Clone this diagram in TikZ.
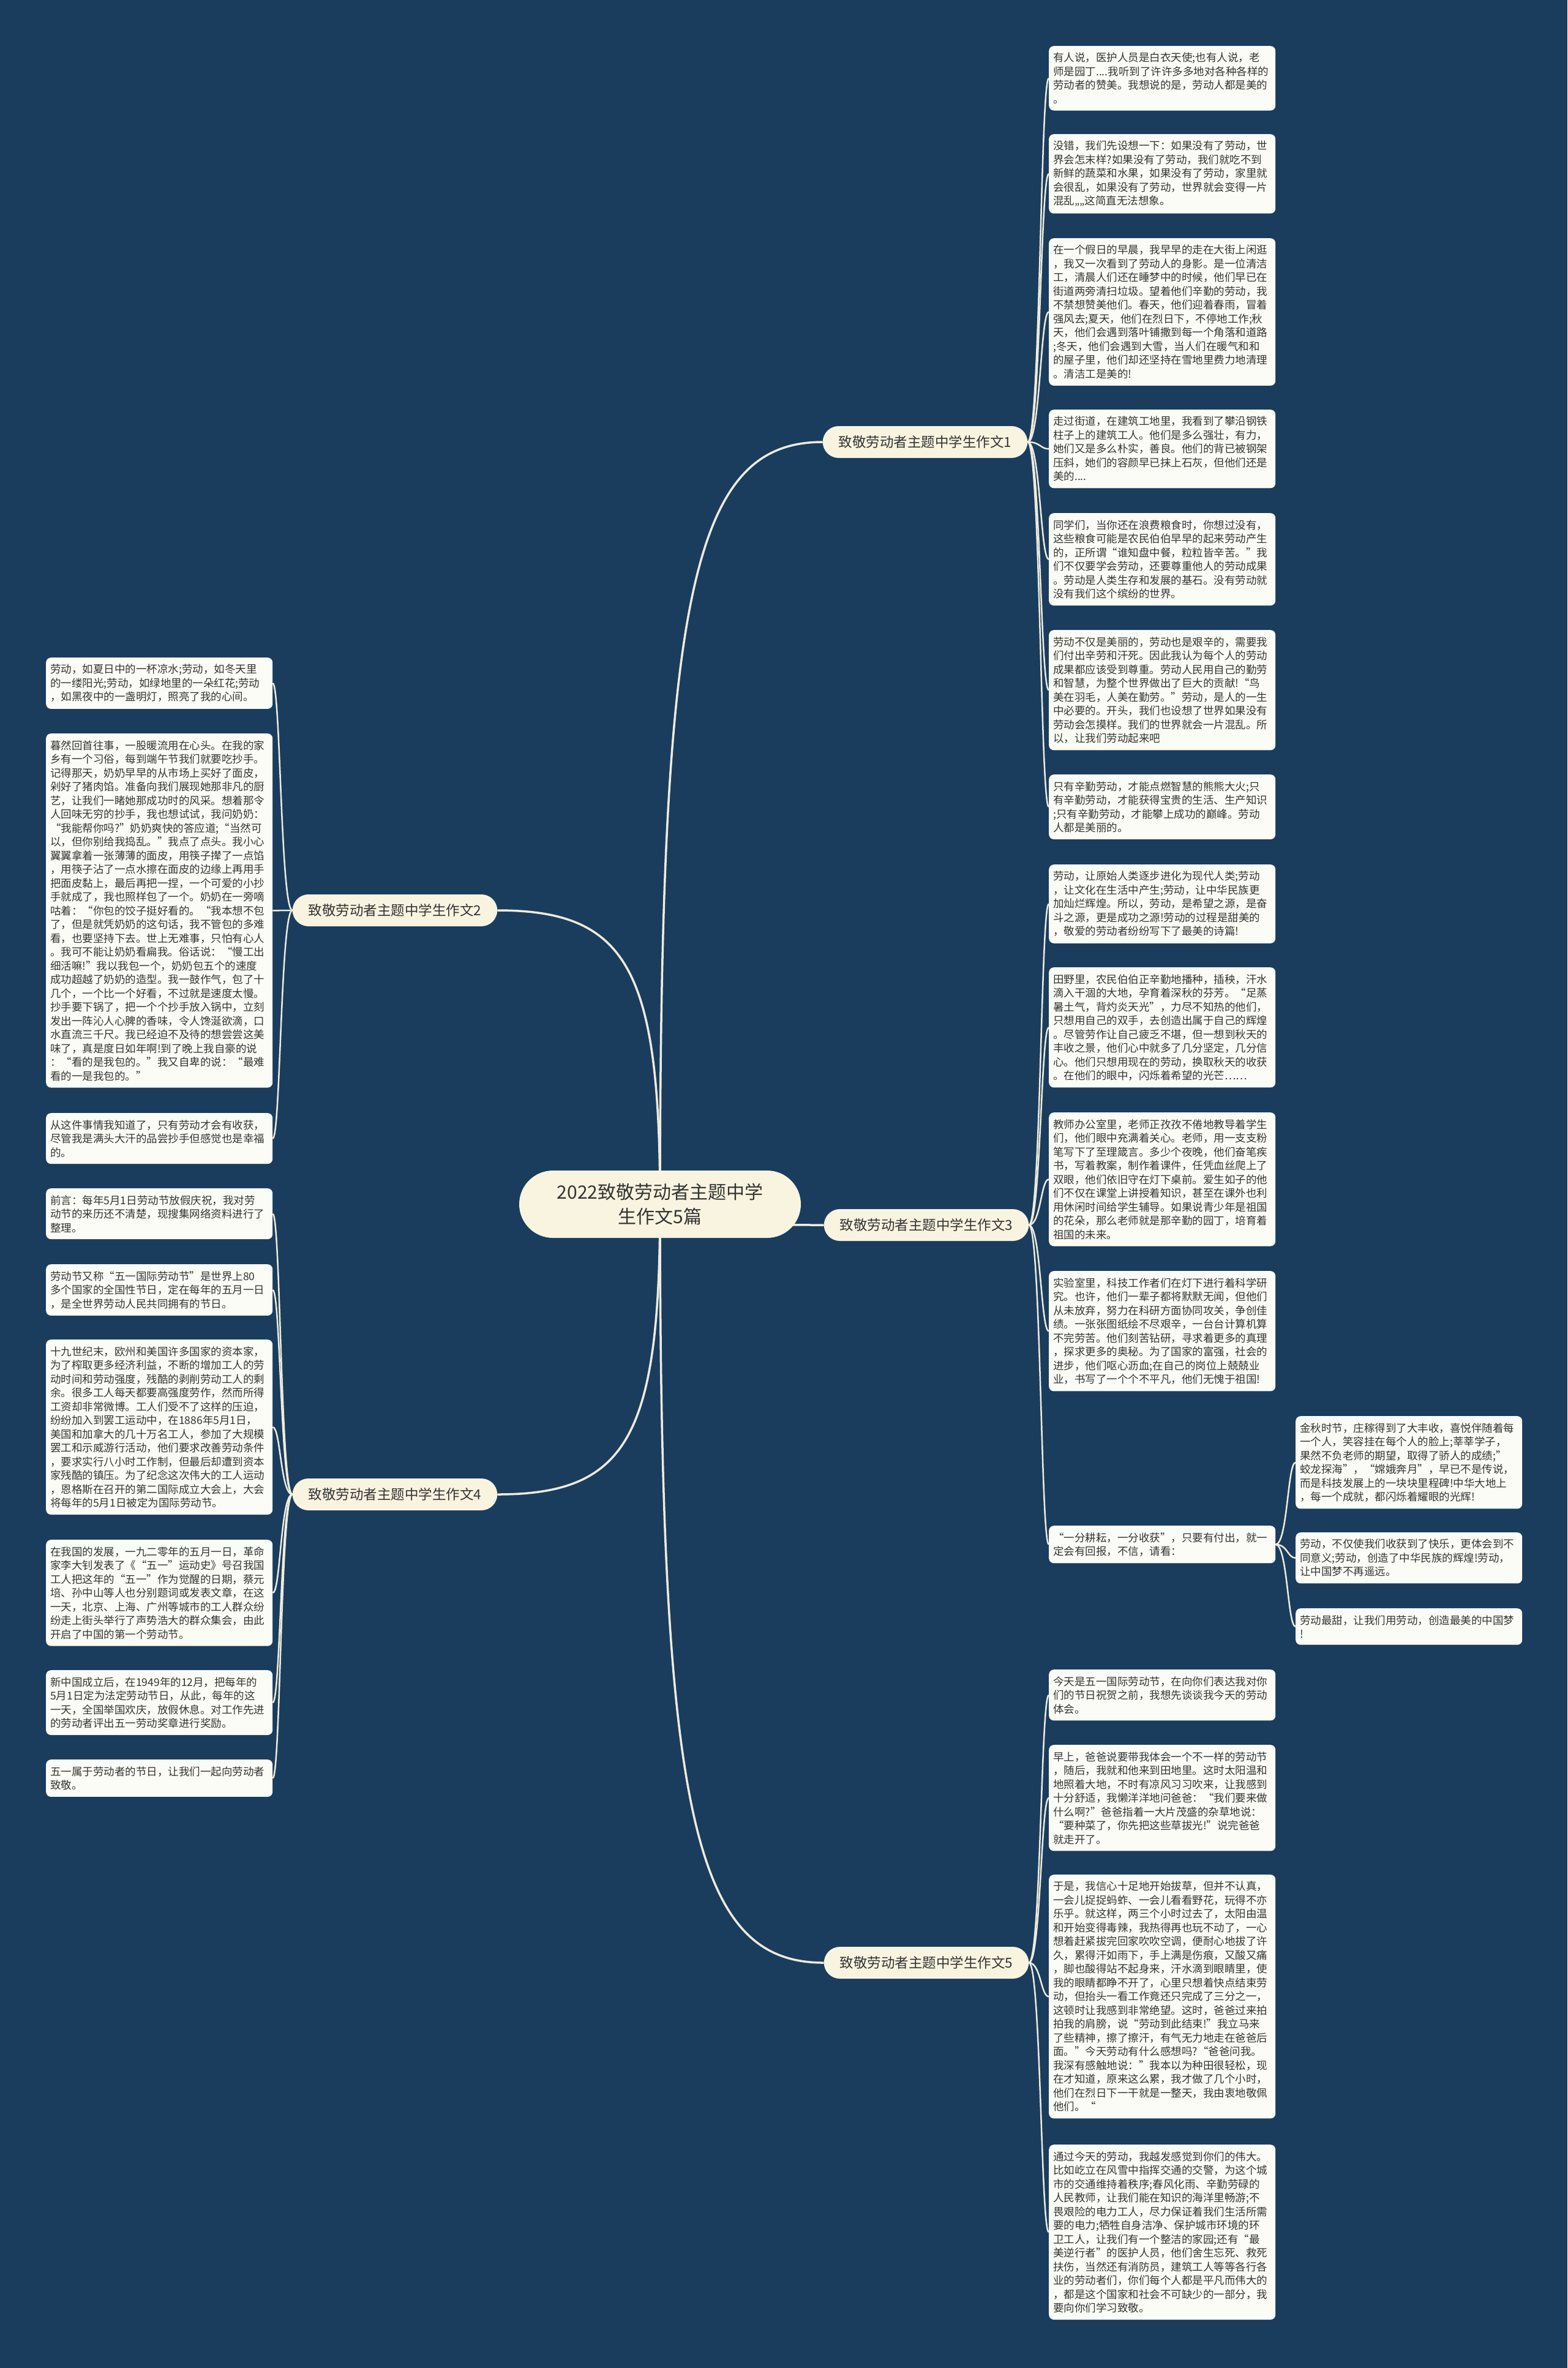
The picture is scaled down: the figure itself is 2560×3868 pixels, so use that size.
\documentclass[tikz,border=0pt]{standalone}
\usepackage{fontspec}
\setmainfont{Noto Sans CJK SC}
\usetikzlibrary{calc}
\definecolor{bgc}{HTML}{1A3D5E}
\definecolor{boxc}{HTML}{FCFCF6}
\definecolor{brc}{HTML}{F8F4E0}
\definecolor{txtc}{HTML}{333333}
\definecolor{linec}{HTML}{EEEBDD}
\pgfdeclarelayer{back}
\pgfdeclarelayer{lines}
\pgfsetlayers{back,lines,main}
\tikzset{
 leaf/.style={fill=boxc, rounded corners=8pt, text width=356pt, inner xsep=7pt, inner ysep=11pt, align=left, anchor=north west, font=\fontsize{17.5}{22.5}\selectfont, text=txtc},
 branch/.style={fill=brc, rounded corners=26pt, minimum height=52pt, inner xsep=26pt, inner ysep=0pt, font=\fontsize{22.5}{27}\selectfont, text=txtc},
 rootnode/.style={fill=brc, rounded corners=55pt, minimum width=460pt, minimum height=110pt, align=center, font=\fontsize{30}{40}\selectfont, text=txtc},
 mainline/.style={draw=linec, line width=3.5pt},
 subline/.style={draw=linec, line width=2.5pt},
}
\newcommand{\myRconn}[2]{\draw[subline] (#1.east) .. controls ($(#1.east)!0.6!(#1.east -| #2.west)$) and ($(#2.west)!0.4!(#2.west -| #1.east)$) .. (#2.west);}
\newcommand{\myLconn}[2]{\draw[subline] (#1.west) .. controls ($(#1.west)!0.6!(#1.west -| #2.east)$) and ($(#2.east)!0.4!(#2.east -| #1.west)$) .. (#2.east);}
\newcommand{\myRootR}[1]{\draw[mainline] (root.center) .. controls ($(root.center)!0.8!(root.center |- #1.west)$) and ($(#1.west)!0.8!(#1.west -| root.center)$) .. (#1.west);}
\newcommand{\myRootL}[1]{\draw[mainline] (root.center) .. controls ($(root.center)!0.8!(root.center |- #1.east)$) and ($(#1.east)!0.8!(#1.east -| root.center)$) .. (#1.east);}
\begin{document}
\begin{tikzpicture}[x=1pt,y=-1pt]
\useasboundingbox (0,0) rectangle (2560,3868);
\begin{pgfonlayer}{back}
\fill[bgc] (0,0) rectangle (2560,3868);
\end{pgfonlayer}

% root and branches
\node[rootnode] (root) at (1078,1967) {2022致敬劳动者主题中学\\生作文5篇};
\node[branch] (b1) at (1511,722) {致敬劳动者主题中学生作文1};
\node[branch] (b2) at (645,1487) {致敬劳动者主题中学生作文2};
\node[branch] (b3) at (1513,2001) {致敬劳动者主题中学生作文3};
\node[branch] (b4) at (645,2441) {致敬劳动者主题中学生作文4};
\node[branch] (b5) at (1513,3206) {致敬劳动者主题中学生作文5};

% essay 1
\node[leaf] (r1) at (1713,75) {有人说，医护人员是白衣天使;也有人说，老\\师是园丁....我听到了许许多多地对各种各样的\\劳动者的赞美。我想说的是，劳动人都是美的\\。};
\node[leaf] (r2) at (1713,219) {没错，我们先设想一下：如果没有了劳动，世\\界会怎末样?如果没有了劳动，我们就吃不到\\新鲜的蔬菜和水果，如果没有了劳动，家里就\\会很乱，如果没有了劳动，世界就会变得一片\\混乱„„这简直无法想象。};
\node[leaf] (r3) at (1713,389) {在一个假日的早晨，我早早的走在大街上闲逛\\，我又一次看到了劳动人的身影。是一位清洁\\工，清晨人们还在睡梦中的时候，他们早已在\\街道两旁清扫垃圾。望着他们辛勤的劳动，我\\不禁想赞美他们。春天，他们迎着春雨，冒着\\强风去;夏天，他们在烈日下，不停地工作;秋\\天，他们会遇到落叶铺撒到每一个角落和道路\\;冬天，他们会遇到大雪，当人们在暖气和和\\的屋子里，他们却还坚持在雪地里费力地清理\\。清洁工是美的!};
\node[leaf] (r4) at (1713,669) {走过街道，在建筑工地里，我看到了攀沿钢铁\\柱子上的建筑工人。他们是多么强壮，有力，\\她们又是多么朴实，善良。他们的背已被钢架\\压斜，她们的容颜早已抹上石灰，但他们还是\\美的....};
\node[leaf] (r5) at (1713,838) {同学们，当你还在浪费粮食时，你想过没有，\\这些粮食可能是农民伯伯早早的起来劳动产生\\的，正所谓“谁知盘中餐，粒粒皆辛苦。”我\\们不仅要学会劳动，还要尊重他人的劳动成果\\。劳动是人类生存和发展的基石。没有劳动就\\没有我们这个缤纷的世界。};
\node[leaf] (r6) at (1713,1029) {劳动不仅是美丽的，劳动也是艰辛的，需要我\\们付出辛劳和汗死。因此我认为每个人的劳动\\成果都应该受到尊重。劳动人民用自己的勤劳\\和智慧，为整个世界做出了巨大的贡献!“鸟\\美在羽毛，人美在勤劳。”劳动，是人的一生\\中必要的。开头，我们也设想了世界如果没有\\劳动会怎摸样。我们的世界就会一片混乱。所\\以，让我们劳动起来吧};
\node[leaf] (r7) at (1713,1265) {只有辛勤劳动，才能点燃智慧的熊熊大火;只\\有辛勤劳动，才能获得宝贵的生活、生产知识\\;只有辛勤劳动，才能攀上成功的巅峰。劳动\\人都是美丽的。};

% essay 3
\node[leaf] (r8) at (1713,1412) {劳动，让原始人类逐步进化为现代人类;劳动\\，让文化在生活中产生;劳动，让中华民族更\\加灿烂辉煌。所以，劳动，是希望之源，是奋\\斗之源，更是成功之源!劳动的过程是甜美的\\，敬爱的劳动者纷纷写下了最美的诗篇!};
\node[leaf] (r9) at (1713,1580) {田野里，农民伯伯正辛勤地播种，插秧，汗水\\滴入干涸的大地，孕育着深秋的芬芳。“足蒸\\暑土气，背灼炎天光”，力尽不知热的他们，\\只想用自己的双手，去创造出属于自己的辉煌\\。尽管劳作让自己疲乏不堪，但一想到秋天的\\丰收之景，他们心中就多了几分坚定，几分信\\心。他们只想用现在的劳动，换取秋天的收获\\。在他们的眼中，闪烁着希望的光芒……};
\node[leaf] (r10) at (1713,1817) {教师办公室里，老师正孜孜不倦地教导着学生\\们，他们眼中充满着关心。老师，用一支支粉\\笔写下了至理箴言。多少个夜晚，他们奋笔疾\\书，写着教案，制作着课件，任凭血丝爬上了\\双眼，他们依旧守在灯下桌前。爱生如子的他\\们不仅在课堂上讲授着知识，甚至在课外也利\\用休闲时间给学生辅导。如果说青少年是祖国\\的花朵，那么老师就是那辛勤的园丁，培育着\\祖国的未来。};
\node[leaf] (r11) at (1713,2076) {实验室里，科技工作者们在灯下进行着科学研\\究。也许，他们一辈子都将默默无闻，但他们\\从未放弃，努力在科研方面协同攻关，争创佳\\绩。一张张图纸绘不尽艰辛，一台台计算机算\\不完劳苦。他们刻苦钻研，寻求着更多的真理\\，探求更多的奥秘。为了国家的富强，社会的\\进步，他们呕心沥血;在自己的岗位上兢兢业\\业，书写了一个个不平凡，他们无愧于祖国!};
\node[leaf] (r12) at (1713,2492) {“一分耕耘，一分收获”，只要有付出，就一\\定会有回报，不信，请看：};
\node[leaf] (s1) at (2116,2313) {金秋时节，庄稼得到了大丰收，喜悦伴随着每\\一个人，笑容挂在每个人的脸上;莘莘学子，\\果然不负老师的期望，取得了骄人的成绩;”\\蛟龙探海”，“嫦娥奔月”，早已不是传说，\\而是科技发展上的一块块里程碑!中华大地上\\，每一个成就，都闪烁着耀眼的光辉!};
\node[leaf] (s2) at (2116,2503) {劳动，不仅使我们收获到了快乐，更体会到不\\同意义;劳动，创造了中华民族的辉煌!劳动，\\让中国梦不再遥远。};
\node[leaf] (s3) at (2116,2627) {劳动最甜，让我们用劳动，创造最美的中国梦\\!};

% essay 5
\node[leaf] (r13) at (1713,2727) {今天是五一国际劳动节，在向你们表达我对你\\们的节日祝贺之前，我想先谈谈我今天的劳动\\体会。};
\node[leaf] (r14) at (1713,2850) {早上，爸爸说要带我体会一个不一样的劳动节\\，随后，我就和他来到田地里。这时太阳温和\\地照着大地，不时有凉风习习吹来，让我感到\\十分舒适，我懒洋洋地问爸爸：“我们要来做\\什么啊?”爸爸指着一大片茂盛的杂草地说：\\“要种菜了，你先把这些草拔光!”说完爸爸\\就走开了。};
\node[leaf] (r15) at (1713,3062) {于是，我信心十足地开始拔草，但并不认真，\\一会儿捉捉蚂蚱、一会儿看看野花，玩得不亦\\乐乎。就这样，两三个小时过去了，太阳由温\\和开始变得毒辣，我热得再也玩不动了，一心\\想着赶紧拔完回家吹吹空调，便耐心地拔了许\\久，累得汗如雨下，手上满是伤痕，又酸又痛\\，脚也酸得站不起身来，汗水滴到眼睛里，使\\我的眼睛都睁不开了，心里只想着快点结束劳\\动，但抬头一看工作竟还只完成了三分之一，\\这顿时让我感到非常绝望。这时，爸爸过来拍\\拍我的肩膀，说“劳动到此结束!”我立马来\\了些精神，擦了擦汗，有气无力地走在爸爸后\\面。”今天劳动有什么感想吗?“爸爸问我。\\我深有感触地说：”我本以为种田很轻松，现\\在才知道，原来这么累，我才做了几个小时，\\他们在烈日下一干就是一整天，我由衷地敬佩\\他们。“};
\node[leaf] (r16) at (1713,3503) {通过今天的劳动，我越发感觉到你们的伟大。\\比如屹立在风雪中指挥交通的交警，为这个城\\市的交通维持着秩序;春风化雨、辛勤劳碌的\\人民教师，让我们能在知识的海洋里畅游;不\\畏艰险的电力工人，尽力保证着我们生活所需\\要的电力;牺牲自身洁净、保护城市环境的环\\卫工人，让我们有一个整洁的家园;还有“最\\美逆行者”的医护人员，他们舍生忘死、救死\\扶伤，当然还有消防员，建筑工人等等各行各\\业的劳动者们，你们每个人都是平凡而伟大的\\，都是这个国家和社会不可缺少的一部分，我\\要向你们学习致敬。};

% essay 2
\node[leaf] (l1) at (75,1074) {劳动，如夏日中的一杯凉水;劳动，如冬天里\\的一缕阳光;劳动，如绿地里的一朵红花;劳动\\，如黑夜中的一盏明灯，照亮了我的心间。};
\node[leaf] (l2) at (75,1198) {暮然回首往事，一股暖流用在心头。在我的家\\乡有一个习俗，每到端午节我们就要吃抄手。\\记得那天，奶奶早早的从市场上买好了面皮，\\剁好了猪肉馅。准备向我们展现她那非凡的厨\\艺，让我们一睹她那成功时的风采。想着那令\\人回味无穷的抄手，我也想试试，我问奶奶：\\“我能帮你吗?”奶奶爽快的答应道;“当然可\\以，但你别给我捣乱。”我点了点头。我小心\\翼翼拿着一张薄薄的面皮，用筷子撵了一点馅\\，用筷子沾了一点水擦在面皮的边缘上再用手\\把面皮黏上，最后再把一捏，一个可爱的小抄\\手就成了，我也照样包了一个。奶奶在一旁嘀\\咕着：“你包的饺子挺好看的。“我本想不包\\了，但是就凭奶奶的这句话，我不管包的多难\\看，也要坚持下去。世上无难事，只怕有心人\\。我可不能让奶奶看扁我。俗话说：“慢工出\\细活嘛!”我以我包一个，奶奶包五个的速度\\成功超越了奶奶的造型。我一鼓作气，包了十\\几个，一个比一个好看，不过就是速度太慢。\\抄手要下锅了，把一个个抄手放入锅中，立刻\\发出一阵沁人心脾的香味，令人馋涎欲滴，口\\水直流三千尺。我已经迫不及待的想尝尝这美\\味了，真是度日如年啊!到了晚上我自豪的说\\：“看的是我包的。”我又自卑的说：“最难\\看的一是我包的。”};
\node[leaf] (l3) at (75,1818) {从这件事情我知道了，只有劳动才会有收获，\\尽管我是满头大汗的品尝抄手但感觉也是幸福\\的。};

% essay 4
\node[leaf] (l4) at (75,1941) {前言：每年5月1日劳动节放假庆祝，我对劳\\动节的来历还不清楚，现搜集网络资料进行了\\整理。};
\node[leaf] (l5) at (75,2065) {劳动节又称“五一国际劳动节”是世界上80\\多个国家的全国性节日，定在每年的五月一日\\，是全世界劳动人民共同拥有的节日。};
\node[leaf] (l6) at (75,2188) {十九世纪末，欧州和美国许多国家的资本家，\\为了榨取更多经济利益，不断的增加工人的劳\\动时间和劳动强度，残酷的剥削劳动工人的剩\\余。很多工人每天都要高强度劳作，然而所得\\工资却非常微博。工人们受不了这样的压迫，\\纷纷加入到罢工运动中，在1886年5月1日，\\美国和加拿大的几十万名工人，参加了大规模\\罢工和示威游行活动，他们要求改善劳动条件\\，要求实行八小时工作制，但最后却遭到资本\\家残酷的镇压。为了纪念这次伟大的工人运动\\，恩格斯在召开的第二国际成立大会上，大会\\将每年的5月1日被定为国际劳动节。};
\node[leaf] (l7) at (75,2515) {在我国的发展，一九二零年的五月一日，革命\\家李大钊发表了《“五一”运动史》号召我国\\工人把这年的“五一”作为觉醒的日期，蔡元\\培、孙中山等人也分别题词或发表文章，在这\\一天，北京、上海、广州等城市的工人群众纷\\纷走上街头举行了声势浩大的群众集会，由此\\开启了中国的第一个劳动节。};
\node[leaf] (l8) at (75,2728) {新中国成立后，在1949年的12月，把每年的\\5月1日定为法定劳动节日，从此，每年的这\\一天，全国举国欢庆，放假休息。对工作先进\\的劳动者评出五一劳动奖章进行奖励。};
\node[leaf] (l9) at (75,2874) {五一属于劳动者的节日，让我们一起向劳动者\\致敬。};

\begin{pgfonlayer}{lines}
\myRootR{b1}
\myRootL{b2}
\myRootR{b3}
\myRootL{b4}
\myRootR{b5}
\foreach \c in {r1,r2,r3,r4,r5,r6,r7} {\myRconn{b1}{\c}}
\foreach \c in {r8,r9,r10,r11,r12} {\myRconn{b3}{\c}}
\foreach \c in {s1,s2,s3} {\myRconn{r12}{\c}}
\foreach \c in {r13,r14,r15,r16} {\myRconn{b5}{\c}}
\foreach \c in {l1,l2,l3} {\myLconn{b2}{\c}}
\foreach \c in {l4,l5,l6,l7,l8,l9} {\myLconn{b4}{\c}}
\end{pgfonlayer}
\end{tikzpicture}
\end{document}
